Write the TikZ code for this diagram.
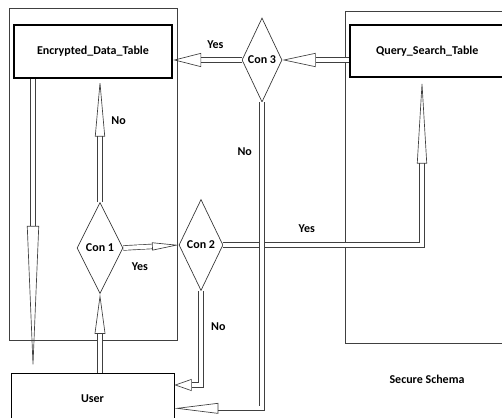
\documentclass[tikz,border=0pt]{standalone}
\usepackage{fontspec}
\setmainfont{Carlito}
\usetikzlibrary{arrows.meta, shapes.geometric}

\begin{document}
\begin{tikzpicture}[
        x=0.75pt, y=-0.75pt,
        font=\bfseries\fontsize{9}{11}\selectfont,
        every node/.style={align=center},
        region/.style={draw=black!75, line width=0.6pt},
        tablebox/.style={draw, line width=1.8pt, inner sep=0pt},
        cond/.style={diamond, draw=black!80, line width=0.5pt, inner sep=0pt},
        blockarrow/.style 2 args={draw=black!75, line width=0.5pt, double=white, double distance=3pt,
            -{Triangle[open, length=#1, width=#2]}}
    ]

    % Pixel size of the picture
    \def\px{0.75pt}
    \useasboundingbox (0,0) rectangle (502,417);

    % --- Containers ---
    \draw[region] (9,8) rectangle (177,340);
    \draw[region] (345,11) rectangle (530,343);

    % --- Tables ---
    \node[tablebox, minimum width=158*\px, minimum height=53*\px] (enc) at (93,51.5) {Encrypted\_Data\_Table};
    \node[tablebox, anchor=west, minimum height=52*\px, inner xsep=26*\px, text width=150*\px, align=left] (query) at (349,51) {Query\_Search\_Table};
    \node[draw, line width=0.6pt, minimum width=163*\px, minimum height=52*\px] (user) at (92.5,399) {User};

    % --- Conditions ---
    \node[cond, minimum width=40*\px, minimum height=84*\px] (con3) at (262,60) {Con 3};
    \node[cond, minimum width=46*\px, minimum height=91*\px] (con1) at (100,248) {Con 1};
    \node[cond, minimum width=44*\px, minimum height=91*\px] (con2) at (201,245) {Con 2};

    \node (schema) at (427,379) {Secure Schema};

    % --- Connectors ---
    \draw[blockarrow={25pt}{10.5pt}] (query.west |- con3.east) -- (con3.east);
    \draw[blockarrow={21pt}{10.5pt}] (con3.west) -- (enc.east |- con3.west) node[midway, above=5pt, xshift=6pt] {Yes};
    \draw[blockarrow={43pt}{7.5pt}] (con1.north) -- (enc.south -| con1.north) node[pos=0.66, right=5pt] {No};
    \draw[blockarrow={110pt}{9pt}] (enc.south -| 33,0) -- (user.north -| 33,0);
    \draw[blockarrow={30pt}{8pt}] (user.north -| con1.south) -- (con1.south);
    \draw[blockarrow={20pt}{6pt}] (con1.east) -- (con2.west) node[pos=0.3, below=8pt] {Yes};
    \draw[blockarrow={13pt}{9pt}] (con2.south) |- ([yshift=10.5pt]user.east) node[pos=0.19, right=4pt] {No};
    \draw[blockarrow={64pt}{7.5pt}] (con2.east) -| (query.south -| 422,0) node[pos=0.21, above=6pt] {Yes};
    \draw[blockarrow={33pt}{8pt}] (con3.south) |- ([yshift=-7pt]user.east) node[pos=0.08, left=4pt] {No};

\end{tikzpicture}
\end{document}
